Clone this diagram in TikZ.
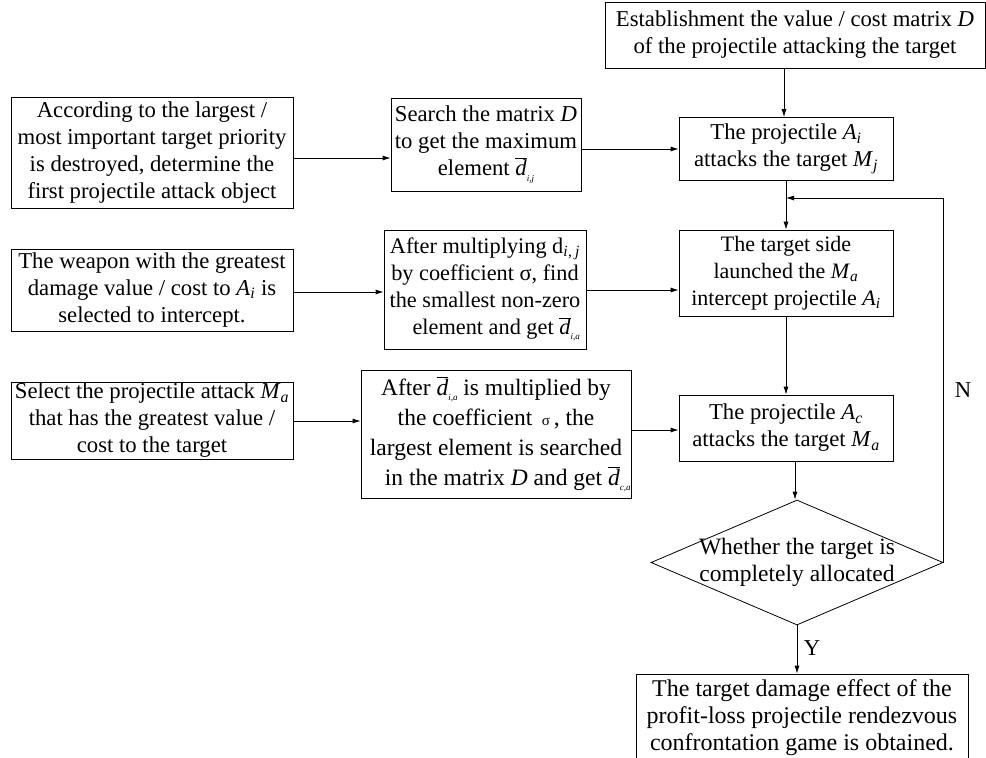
\documentclass[tikz,border=0pt]{standalone}
\usepackage{fontspec}
\setmainfont{Liberation Serif}
\usetikzlibrary{shapes.geometric,arrows.meta}
\newcommand\iv[1]{\textit{#1}}
\newcommand\sbs[1]{\textsubscript{\textit{#1}}}
\newcommand\dbr[1]{$\overline{\hbox{\textit{d}}}$\raisebox{-0.5ex}{\fontsize{9}{9}\selectfont\textit{#1}}}
\newcommand\fs[1]{\fontsize{#1}{27}\selectfont}
\begin{document}
\begin{tikzpicture}[x=1pt,y=-1pt,
  font=\fs{22.7},
  box/.style={draw, line width=0.8pt, align=center, inner sep=0pt},
  arr/.style={-{Latex[length=8pt,width=5pt]}, line width=0.8pt}]
\clip (0,0) rectangle (986,758);
\fill[white] (0,0) rectangle (986,758);

\node[box, minimum width=380pt, minimum height=66pt] (top) at (795,35)
  {Establishment the value / cost matrix \iv{D}\\of the projectile attacking the target};
\node[box, minimum width=282pt, minimum height=111pt] (b1) at (152,152.5)
  {According to the largest /\\most important target priority\\is destroyed, determine the\\first projectile attack object};
\node[box, minimum width=190pt, minimum height=93pt] (srch) at (486,144.5)
  {Search the matrix \iv{D}\\to get the maximum\\element \dbr{i,j}};
\node[box, minimum width=214pt, minimum height=63pt] (ai) at (786,149)
  {The projectile \iv{A}\sbs{i}\\attacks the target \iv{M}\sbs{j}};

\node[box, minimum width=282pt, minimum height=82pt] (b2) at (152,290)
  {The weapon with the greatest\\damage value / cost to \iv{A}\sbs{i} is\\selected to intercept.};
\node[box, minimum width=202pt, minimum height=119pt, font=\fs{22.3}] (mult) at (485,289.5)
  {After multiplying d\sbs{i}\textsubscript{,}\sbs{\,j}\\by coefficient σ, find\\the smallest non-zero\\\quad element and get \dbr{i,a}};
\node[box, minimum width=214pt, minimum height=86pt, font=\fs{22}] (tside) at (786,273)
  {The target side\\launched the \iv{M}\sbs{a}\\intercept projectile \iv{A}\sbs{i}};

\node[box, minimum width=282pt, minimum height=77pt] (b3) at (152,420.5)
  {Select the projectile attack \iv{M}\sbs{a}\\that has the greatest value /\\cost to the target};
\node[box, minimum width=270pt, minimum height=128pt, font=\fontsize{23.5}{30}\selectfont] (dbx) at (496,434.5)
  {After \dbr{i,a} is multiplied by\\the coefficient {\fontsize{15}{15}\selectfont\ σ\ }, the\\largest element is searched\\\quad in the matrix \iv{D} and get \dbr{c,a}};
\node[box, minimum width=214pt, minimum height=66pt] (ac) at (786,428)
  {The projectile \iv{A}\sbs{c}\\attacks the target \iv{M}\sbs{a}};

\node[diamond, draw, line width=0.8pt, minimum width=292pt, minimum height=125pt, inner sep=0pt] (dia) at (797,562.5) {};
\node[align=center, inner sep=0pt, font=\fs{23.5}] (diat) at (dia.center) {Whether the target is\\completely allocated};

\node[box, minimum width=332pt, minimum height=88pt, font=\fontsize{24}{27}\selectfont] (bot) at (802,718)
  {The target damage effect of the\\profit-loss projectile rendezvous\\confrontation game is obtained.};

\node (Y) at (812,648) {Y};
\node (N) at (963,390) {N};

% connectors
\coordinate (y1) at (0,158);
\coordinate (y2) at (0,149);
\coordinate (y3) at (0,292);
\coordinate (y4) at (0,290);
\coordinate (y5) at (0,421);
\coordinate (y6) at (0,430);
\coordinate (yfb) at (0,198);
\coordinate (x1) at (784,0);
\coordinate (x2) at (795,0);

\draw[arr] (b1.east |- y1) -- (srch.west |- y1);
\draw[arr] (srch.east |- y2) -- (ai.west |- y2);
\draw[arr] (b2.east |- y3) -- (mult.west |- y3);
\draw[arr] (mult.east |- y4) -- (tside.west |- y4);
\draw[arr] (b3.east |- y5) -- (dbx.west |- y5);
\draw[arr] (dbx.east |- y6) -- (ac.west |- y6);

\draw[arr] (top.south -| x1) -- (ai.north -| x1);
\draw[arr] (ai.south) -- (tside.north);
\draw[arr] (tside.south) -- (ac.north);
\draw[arr] (ac.south -| x2) -- (dia.north -| x2);
\draw[arr] (dia.south) -- (bot.north -| dia.south);
\draw[arr] (dia.east) -- (dia.east |- yfb) -- (ai.south |- yfb);
\end{tikzpicture}
\end{document}
